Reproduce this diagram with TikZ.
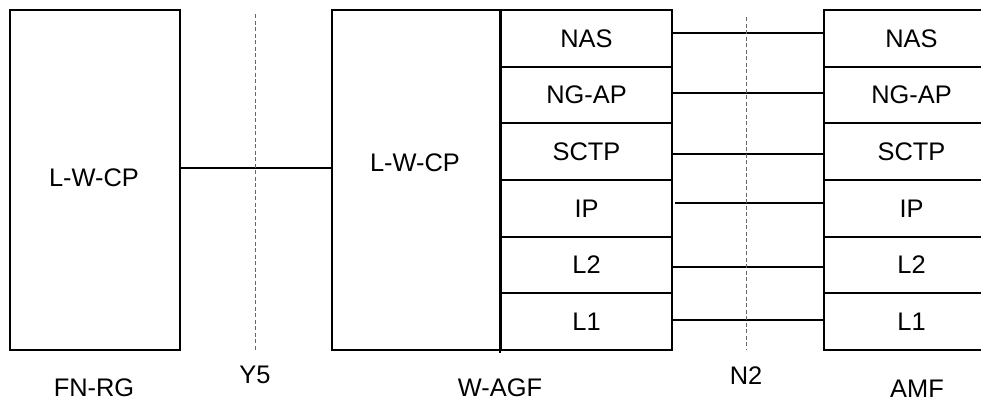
\documentclass[tikz,border=0pt]{standalone}
\usepackage{fontspec}
\setmainfont{Liberation Sans}
\begin{document}
\begin{tikzpicture}[x=1bp,y=-1bp,
  box/.style={draw,line width=2bp,inner sep=0pt,anchor=north west},
  cell/.style={draw,line width=2bp,inner sep=0pt,anchor=north west,font=\fontsize{25.5}{30}\selectfont},
  lbl/.style={font=\fontsize{25.5}{30}\selectfont,inner sep=0pt},
  link/.style={line width=1.6bp},
  refline/.style={gray!80!black,line width=1bp,dash pattern=on 4bp off 2.5bp}]
\clip (0,0) rectangle (981,399);
% FN-RG
\node[box,minimum width=170bp,minimum height=340bp] (fn) at (9,9) {};
\node[lbl] (fntxt) at (94,178) {L-W-CP};
% W-AGF
\node[box,minimum width=340bp,minimum height=340bp] (wagf) at (331,9) {};
\node[lbl] (wtxt) at (415,163) {L-W-CP};
\coordinate (divtop) at (500,9);
\coordinate (divbot) at (500,353);
\draw[line width=2bp] (divtop) -- (divbot);
\foreach \t/\top/\h [count=\i] in {NAS/9/57,NG-AP/66/56,SCTP/122/57,IP/179/57,L2/236/56,L1/292/57}{
  \node[cell,minimum width=171bp,minimum height=\h bp] (w\i) at (500,\top) {\t};
  \node[cell,minimum width=175bp,minimum height=\h bp] (a\i) at (823,\top) {\t};
}
% connectors
\draw[link] (fn.east |- 0,168) -- (wagf.west |- 0,168);
\draw[link] ([yshift=5.5bp]w1.east) -- ([yshift=5.5bp]a1.west);
\draw[link] ([yshift=2bp]w2.east) -- ([yshift=2bp]a2.west);
\draw[link] ([yshift=-2.5bp]w3.east) -- ([yshift=-2.5bp]a3.west);
\draw[link] ([xshift=2bp,yshift=5.5bp]w4.east) -- ([yshift=5.5bp]a4.west);
\draw[link] ([yshift=-2bp]w5.east) -- ([yshift=-2bp]a5.west);
\draw[link] ([yshift=1.5bp]w6.east) -- ([yshift=1.5bp]a6.west);
% reference points
\coordinate (y5t) at (255,14);
\coordinate (y5b) at (255,350);
\coordinate (n2t) at (746,17);
\coordinate (n2b) at (746,349);
\draw[refline] (y5t) -- (y5b);
\draw[refline] (n2t) -- (n2b);
% labels
\node[lbl] (lfn) at (94,388) {FN-RG};
\node[lbl] (ly5) at (255,375) {Y5};
\node[lbl] (lw) at (500,388) {W-AGF};
\node[lbl] (ln2) at (746,376) {N2};
\node[lbl] (lamf) at (917,389) {AMF};
\end{tikzpicture}
\end{document}
